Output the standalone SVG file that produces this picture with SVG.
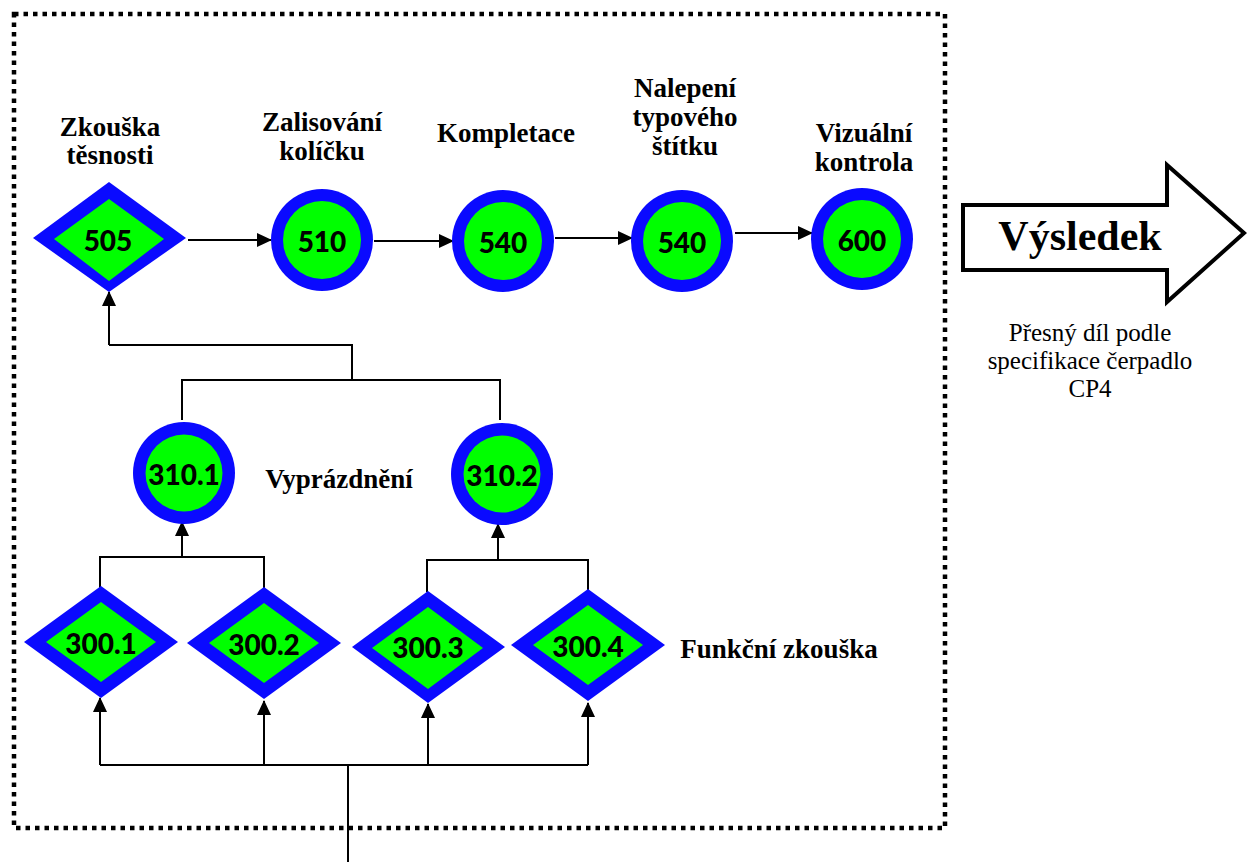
<svg xmlns="http://www.w3.org/2000/svg" width="1247" height="865" viewBox="0 0 1247 865">
<style>
.lbl{font-family:"Liberation Serif","Times New Roman",serif;font-weight:bold;font-size:27px;fill:#000;text-anchor:middle}
.num{font-family:Lato,"Open Sans",sans-serif;font-weight:900;font-size:28px;fill:#000;text-anchor:middle}
.out{fill:#0a0aff}
.in{fill:#00ff00}
.ln{stroke:#000;stroke-width:2;fill:none}
.note{font-family:"Liberation Serif","Times New Roman",serif;font-size:25px;fill:#000;text-anchor:middle}
</style>
<defs>
<marker id="ah" markerUnits="userSpaceOnUse" markerWidth="16" markerHeight="14" refX="14" refY="7" orient="auto">
<path d="M0,0 L15,7 L0,14 Z" fill="#000"/>
</marker>
</defs>
<rect x="14" y="14" width="931" height="814" fill="none" stroke="#000" stroke-width="4.5" stroke-dasharray="4.5 5"/>

<g id="connectors">
<path class="ln" d="M188,240 H271" marker-end="url(#ah)"/>
<path class="ln" d="M374,241 H453" marker-end="url(#ah)"/>
<path class="ln" d="M555,238 H632" marker-end="url(#ah)"/>
<path class="ln" d="M735,233 H812" marker-end="url(#ah)"/>
<path class="ln" d="M109,345 V292" marker-end="url(#ah)"/>
<path class="ln" d="M109,345 H352 V380"/>
<path class="ln" d="M182,420 V380 H500 V420"/>
<path class="ln" d="M100,588 V557 H264 V588"/>
<path class="ln" d="M182,557 V522" marker-end="url(#ah)"/>
<path class="ln" d="M427,592 V560 H588 V590"/>
<path class="ln" d="M498,560 V524" marker-end="url(#ah)"/>
<path class="ln" d="M100,765 H588"/>
<path class="ln" d="M100,765 V698" marker-end="url(#ah)"/>
<path class="ln" d="M264,765 V701" marker-end="url(#ah)"/>
<path class="ln" d="M428,765 V704" marker-end="url(#ah)"/>
<path class="ln" d="M588,765 V703" marker-end="url(#ah)"/>
<path class="ln" d="M348,765 V862"/>
</g>

<g id="n505">
<polygon class="out" points="33,238 109,182 186,238 109,292"/>
<polygon class="in" points="54,239 109,199 164,239 109,281"/>
<text class="num" x="108" y="251">505</text>
<text class="lbl" x="110" y="136">Zkouška</text>
<text class="lbl" x="110" y="164">těsnosti</text>
</g>
<g id="n510">
<circle class="out" cx="322" cy="240" r="51"/>
<circle class="in" cx="322" cy="240" r="39"/>
<text class="num" x="322" y="252">510</text>
<text class="lbl" x="322" y="131">Zalisování</text>
<text class="lbl" x="322" y="160">kolíčku</text>
</g>
<g id="n540a">
<circle class="out" cx="503" cy="241" r="51"/>
<circle class="in" cx="503" cy="241" r="39"/>
<text class="num" x="503" y="253">540</text>
<text class="lbl" x="506" y="142">Kompletace</text>
</g>
<g id="n540b">
<circle class="out" cx="682" cy="241" r="51"/>
<circle class="in" cx="682" cy="241" r="39"/>
<text class="num" x="682" y="253">540</text>
<text class="lbl" x="685" y="97">Nalepení</text>
<text class="lbl" x="685" y="126">typového</text>
<text class="lbl" x="685" y="155">štítku</text>
</g>
<g id="n600">
<circle class="out" cx="862" cy="239" r="51"/>
<circle class="in" cx="862" cy="239" r="39"/>
<text class="num" x="862" y="251">600</text>
<text class="lbl" x="864" y="142">Vizuální</text>
<text class="lbl" x="864" y="171">kontrola</text>
</g>
<g id="n3101">
<circle class="out" cx="184" cy="473" r="51"/>
<circle class="in" cx="184" cy="473" r="38.5"/>
<text class="num" x="184" y="485">310.1</text>
</g>
<g id="n3102">
<circle class="out" cx="502" cy="474" r="51"/>
<circle class="in" cx="502" cy="474" r="38.5"/>
<text class="num" x="502" y="486">310.2</text>
</g>
<text class="lbl" x="339" y="488">Vyprázdnění</text>
<g id="n3001">
<polygon class="out" points="24,642 101,586 178,642 101,698"/>
<polygon class="in" points="46,642 101,602 156,642 101,682"/>
<text class="num" x="101" y="654">300.1</text>
</g>
<g id="n3002">
<polygon class="out" points="187,643 264,587 341,643 264,699"/>
<polygon class="in" points="209,643 264,603 319,643 264,683"/>
<text class="num" x="264" y="655">300.2</text>
</g>
<g id="n3003">
<polygon class="out" points="352,647 428,591 505,647 428,703"/>
<polygon class="in" points="372,648 428,607 483,648 428,689"/>
<text class="num" x="428" y="658">300.3</text>
</g>
<g id="n3004">
<polygon class="out" points="511,645 588,589 665,645 588,701"/>
<polygon class="in" points="533,645 588,605 643,645 588,685"/>
<text class="num" x="588" y="657">300.4</text>
</g>
<text class="lbl" x="779" y="658">Funkční zkouška</text>

<g id="result">
<polygon points="963,205 1167,205 1167,165 1244,233 1167,302 1167,270 963,270" fill="#fff" stroke="#000" stroke-width="4"/>
<text class="lbl" x="1080" y="250" style="font-size:42px">Výsledek</text>
<text class="note" x="1090" y="341">Přesný díl podle</text>
<text class="note" x="1090" y="369">specifikace čerpadlo</text>
<text class="note" x="1090" y="397">CP4</text>
</g>
</svg>
